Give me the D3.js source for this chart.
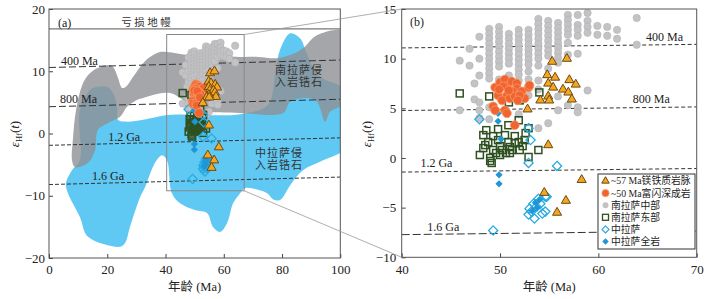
<!DOCTYPE html>
<html>
<head>
<meta charset="utf-8">
<script src="https://cdn.jsdelivr.net/npm/d3@7"></script>
<style>
  body { margin: 0; background: #fff; }
  svg { font-family: "Liberation Serif", "Noto Sans CJK SC", serif; }
</style>
</head>
<body>
<svg id="chart" width="728" height="299"></svg>
<script>
// ---- Daten ----
// Felder in (a): [Alter Ma, eHf]
const blueRegion = [
  [5.8,-8.0],[7.9,-5.9],[10.6,-4.3],[10.6,3.8],[14.1,7.0],[16.5,7.5],[19.9,7.5],[22.0,6.5],
  [23.4,4.3],[23.7,2.2],[26.8,1.9],[32.3,2.2],[41.6,3.0],[65.6,3.1],[75.2,4.6],[77.6,9.4],
  [79.3,13.4],[82.8,16.1],[86.2,15.3],[88.3,13.1],[92.4,9.4],[102,6.7],[102,-2.2],[94.1,-4.3],
  [87.2,-5.9],[82.8,-8.3],[79.3,-10.7],[77.0,-10.6],[74.9,-9.6],[71.4,-9.0],[67.3,-8.8],
  [65.3,-9.8],[63.2,-11.2],[61.1,-14.4],[58.7,-15.8],[56.3,-15.0],[54.3,-12.8],[50.1,-12.3],
  [45.0,-11.2],[42.2,-9.6],[40.5,-4.3],[38.8,-3.5],[36.4,-4.7],[33.0,-8.6],[31.3,-10.2],
  [27.8,-15.0],[26.1,-17.6],[24.4,-18.2],[13.4,-16.6],[10.6,-13.4],[6.5,-9.6]
];
const grayRegion = [
  [7.9,-4.3],[8.2,-1.0],[9.3,3.8],[11.7,8.1],[14.1,9.7],[16.5,10.5],[21.0,11.0],[22.3,10.5],
  [23.7,8.9],[25.1,7.3],[26.4,7.5],[28.9,9.1],[32.3,11.3],[34.7,12.3],[38.1,13.1],[40.5,13.1],
  [48.4,12.6],[58.7,12.5],[65.6,12.3],[71.8,12.3],[78.3,12.1],[82.8,12.6],[87.2,13.7],
  [92.0,15.8],[102,16.3],[102,5.1],[96.5,3.5],[94.8,1.9],[92.0,5.1],[88.6,5.7],[82.8,5.1],
  [80.4,3.3],[65.6,3.3],[51.9,3.8],[41.6,6.5],[35.7,6.2],[32.3,5.7],[30.2,5.4],[26.8,4.3],
  [24.4,2.7],[20.3,1.7],[16.8,0.6],[15.8,-2.7],[13.4,-4.7],[8.9,-5.4]
];

// Entwicklungslinien: eHf bei 0 und 100 Ma
const evoNames = ["400 Ma", "800 Ma", "1.2 Ga", "1.6 Ga"];
const evoAt0 = [10.6, 4.3, -1.9, -8.2];
const evoAt100 = [11.8, 5.5, -0.7, -7.0];
const dmValue = 16.8;

// Beschriftungspositionen der Linien [Alter, eHf]
const evoLabelA = [[4.1,11.65],[3.8,5.54],[20.3,-0.56],[14.8,-6.78]];
const evoLabelB = [[64.85,12.18],[63.5,5.94],[41.9,-0.51],[42.6,-6.95]];

// Ausschnitt in (a)
const zoomBox = [40.4, 67.0, -9.2, 15.9];

// Punktdaten
const grayCols = [
  [45.9, [9.8, 4.8]],
  [46.9, [11.0, 9.3]],
  [47.4, [7.5, 5.9]],
  [47.9, [12.2, 10.0, 8.3, 5.6, 4.8, 4.0]],
  [48.9, [13.0, 12.5, 12.0, 11.5, 11.0, 10.5, 10.0, 9.5, 9.0, 8.5, 8.0, 5.1, 3.9]],
  [49.9, [13.2, 12.7, 12.2, 11.7, 11.2, 10.7, 10.2, 9.7, 9.2, 7.9]],
  [50.9, [12.5, 12.0, 11.5, 11.0, 10.5, 10.0, 9.5, 8.3]],
  [51.9, [12.9, 12.4, 11.9, 11.4, 10.9, 10.4, 9.9, 9.4, 8.9, 8.4, 7.8, 4.4]],
  [52.9, [12.9, 12.4, 11.9, 11.4, 10.9, 10.4, 9.9, 9.4, 8.7, 7.9, 6.3]],
  [53.9, [14.0, 13.5, 13.0, 12.5, 12.0, 11.5, 11.0, 10.5, 10.0, 9.3, 7.8, 6.9, 3.0]],
  [54.9, [13.8, 13.3, 12.8, 12.3, 11.8, 11.3, 10.8, 10.3, 9.0, 3.5]],
  [55.9, [13.6, 13.1, 12.6, 12.1, 11.6, 11.1, 10.6, 10.1, 9.6, 6.2, 4.8]],
  [56.9, [14.4, 13.9, 13.4, 12.9, 12.4, 11.6, 10.4, 5.3]],
  [57.9, [14.4, 13.4, 12.9, 12.3, 10.5, 5.1, 4.6]],
  [58.9, [14.6, 13.8, 13.2, 12.6, 6.8]],
  [59.9, [13.3, 12.4]],
  [60.9, [13.2, 12.3]],
  [61.9, [12.9, 12.0]],
  [63.9, [14.1, 11.4]]
];
const grayPts = grayCols.flatMap(([age, vals]) => vals.map(v => [age, v]));

const redPts = [
  [49.5,7.1],[50.0,7.6],[50.5,7.9],[50.7,7.25],[51.2,7.7],[51.7,7.5],[49.8,6.3],[50.7,6.3],
  [51.7,7.0],[52.2,6.7],[52.9,7.1],[53.0,7.3],[51.3,6.7],[50.2,5.8],[51.0,6.0],[51.5,6.2],
  [52.5,6.0],[49.3,5.2],[49.5,4.8],[50.5,4.8],[50.7,4.5],[51.5,3.3],[50.3,7.2],[49.9,6.9],
  [52.0,6.3],[50.9,6.8],[51.8,5.8]
];
const triPts = [
  [55.3,9.7],[56.8,10.0],[54.8,8.35],[55.6,8.1],[54.9,7.5],[55.4,7.1],[57.05,7.85],[57.7,7.4],
  [56.4,6.9],[56.95,6.6],[57.3,5.9],[54.9,6.2],[54.1,5.8],[55.0,5.8],[52.8,4.9],[54.9,1.3],
  [58.3,-2.2],[54.5,-3.5],[56.7,-4.3],[55.8,-5.5]
];
const eastPts = [
  [45.9,6.5],[48.9,6.2],[50.9,5.6],[52.0,5.8],[54.0,6.6],
  [48.6,2.8],[49.8,2.9],[50.85,3.3],[51.9,3.8],[52.9,3.0],
  [48.8,1.6],[49.8,1.8],[50.85,1.6],[51.9,1.6],[52.5,1.8],
  [48.3,1.0],[49.3,0.8],[50.2,0.8],[51.2,0.8],[52.0,0.8],[53.9,0.8],
  [47.95,0.3],[49.0,0.0],[50.0,0.3],[51.0,0.5],[49.15,-0.5],[52.9,0.1],
  [49.3,2.2],[50.5,2.3],[51.5,2.2],[48.5,1.3],[50.0,1.2],[51.0,1.1],[52.3,1.2],
  [49.6,0.5],[50.6,0.5],[48.3,2.3],[52.6,2.5],[49.0,-0.3],[51.5,1.5]
];
const midPts = [
  [47.9,3.9],[52.9,3.0],[53.1,1.8],[52.9,-0.5],[55.8,-0.8],[49.3,-7.3],
  [53.4,-4.6],[53.9,-4.1],[54.6,-3.9],[53.7,-4.9],[53.0,-5.1],[52.9,-5.7],[53.5,-6.1],
  [54.3,-5.6],[54.6,-5.4],[54.1,-4.6],[53.2,-5.4],[54.75,-3.9]
];
const midWrPts = [
  [49.8,4.5],[49.8,3.7],[49.9,-1.7],[49.9,-2.6],[50.1,1.9],
  [53.6,-4.5],[53.8,-5.0],[53.3,-5.3],[54.0,-4.2]
];

const legendLabels = ["~57 Ma镁铁质岩脉", "~50 Ma富闪深成岩", "南拉萨中部", "南拉萨东部", "中拉萨", "中拉萨全岩"];

const aXTicks = [0, 20, 40, 60, 80, 100];
const aYTicks = [-20, -10, 0, 10, 20];
const bXTicks = [40, 50, 60, 70];
const bYTicks = [-10, -5, 0, 5, 10, 15];

// ---- Skalen ----
const svg = d3.select("#chart");
const xa = d3.scaleLinear().domain([0, 100]).range([49, 340.3]);
const ya = d3.scaleLinear().domain([-20, 20]).range([258, 9]);
const xb = d3.scaleLinear().domain([40, 70]).range([401.7, 696.7]);
const yb = d3.scaleLinear().domain([-10, 15]).range([257.3, 9]);

const defs = svg.append("defs");
defs.append("clipPath").attr("id", "clipA").append("rect")
  .attr("x", xa(0)).attr("y", ya(20)).attr("width", xa(100) - xa(0)).attr("height", ya(-20) - ya(20));
defs.append("clipPath").attr("id", "clipB").append("rect")
  .attr("x", xb(40)).attr("y", yb(15)).attr("width", xb(70) - xb(40)).attr("height", yb(-10) - yb(15));

const diamond = r => `M0,${-r}L${r},0L0,${r}L${-r},0Z`;
const triangle = d3.symbol(d3.symbolTriangle, 36);

// Punkte zeichnen (für beide Diagramme gleich)
function drawPoints(g, x, y) {
  g.append("g").selectAll("circle").data(grayPts).join("circle")
    .attr("cx", d => x(d[0])).attr("cy", d => y(d[1])).attr("r", 3.7)
    .attr("fill", "#c3c3c5").attr("stroke", "#afafb1").attr("stroke-width", 0.5);
  g.append("g").selectAll("rect").data(eastPts).join("rect")
    .attr("x", d => x(d[0]) - 3.5).attr("y", d => y(d[1]) - 3.5)
    .attr("width", 7).attr("height", 7)
    .attr("fill", "none").attr("stroke", "#2f5122").attr("stroke-width", 1.5);
  g.append("g").selectAll("path").data(midPts).join("path")
    .attr("transform", d => `translate(${x(d[0])},${y(d[1])})`)
    .attr("d", diamond(4.6))
    .attr("fill", "none").attr("stroke", "#28abe3").attr("stroke-width", 1.3);
  g.append("g").selectAll("path").data(midWrPts).join("path")
    .attr("transform", d => `translate(${x(d[0])},${y(d[1])})`)
    .attr("d", diamond(3.6))
    .attr("fill", "#1f97d6");
  g.append("g").selectAll("circle").data(redPts).join("circle")
    .attr("cx", d => x(d[0])).attr("cy", d => y(d[1])).attr("r", 4.4)
    .attr("fill", "#f2642f").attr("stroke", "#f59a6c").attr("stroke-width", 0.8);
  g.append("g").selectAll("path").data(triPts).join("path")
    .attr("transform", d => `translate(${x(d[0])},${y(d[1])})`)
    .attr("d", triangle)
    .attr("fill", "#f4a622").attr("stroke", "#6c4a10").attr("stroke-width", 1);
}

function drawEvo(g, x, y, t0, t1, dashes) {
  evoNames.forEach((n, i) => {
    const f = t => evoAt0[i] + (evoAt100[i] - evoAt0[i]) * t / 100;
    g.append("line")
      .attr("x1", x(t0)).attr("y1", y(f(t0)))
      .attr("x2", x(t1)).attr("y2", y(f(t1)))
      .attr("stroke", "#333").attr("stroke-width", 1)
      .attr("stroke-dasharray", dashes[i]);
  });
}

function drawAxes(x, y, xt, yt, padL) {
  const gx = svg.append("g").attr("transform", `translate(0,${y.range()[0]})`)
    .call(d3.axisBottom(x).tickValues(xt).tickSizeInner(-4).tickSizeOuter(0).tickPadding(7));
  const gy = svg.append("g").attr("transform", `translate(${x.range()[0]},0)`)
    .call(d3.axisLeft(y).tickValues(yt).tickSizeInner(-4).tickSizeOuter(0).tickPadding(padL));
  [gx, gy].forEach(g => {
    g.select(".domain").remove();
    g.selectAll("line").attr("stroke", "#444");
    g.selectAll("text").attr("font-size", 13).attr("fill", "#222")
      .attr("font-family", "Liberation Serif, serif");
  });
  svg.append("rect")
    .attr("x", x.range()[0]).attr("y", y.range()[1])
    .attr("width", x.range()[1] - x.range()[0]).attr("height", y.range()[0] - y.range()[1])
    .attr("fill", "none").attr("stroke", "#555").attr("stroke-width", 1);
  // Achsentitel
  const mid = (x.range()[0] + x.range()[1]) / 2;
  svg.append("text").attr("x", mid).attr("y", 291).attr("text-anchor", "middle")
    .attr("font-size", 12.5).attr("fill", "#222").text("年龄 (Ma)");
}

function yLabel(cx) {
  const t = svg.append("text").attr("transform", `translate(${cx},134) rotate(-90)`)
    .attr("text-anchor", "middle").attr("font-size", 13).attr("fill", "#222");
  t.append("tspan").attr("font-style", "italic").text("ε");
  t.append("tspan").attr("font-size", 8.5).attr("dy", 3).text("Hf");
  t.append("tspan").attr("dy", -3).text("(");
  t.append("tspan").attr("font-style", "italic").text("t");
  t.append("tspan").text(")");
}

// ---- Diagramm (a) ----
const ga = svg.append("g").attr("clip-path", "url(#clipA)");
const area = d3.line().x(d => xa(d[0])).y(d => ya(d[1])).curve(d3.curveCatmullRomClosed.alpha(0.5));
ga.append("path").datum(blueRegion).attr("d", area).attr("fill", "#5fc9f3");
ga.append("path").datum(grayRegion).attr("d", area).attr("fill", "#8e9093").attr("opacity", 0.8);

ga.append("line").attr("x1", xa(0)).attr("x2", xa(100)).attr("y1", ya(dmValue)).attr("y2", ya(dmValue))
  .attr("stroke", "#555").attr("stroke-width", 1);
drawEvo(ga, xa, ya, 0, 100, ["7,3", "7,3", "4,2", "4,2"]);

ga.append("rect")
  .attr("x", xa(zoomBox[0])).attr("y", ya(zoomBox[3]))
  .attr("width", xa(zoomBox[1]) - xa(zoomBox[0])).attr("height", ya(zoomBox[2]) - ya(zoomBox[3]))
  .attr("fill", "none").attr("stroke", "#888").attr("stroke-width", 1);

drawPoints(ga, xa, ya);

evoNames.forEach((n, i) => {
  svg.append("text").attr("x", xa(evoLabelA[i][0])).attr("y", ya(evoLabelA[i][1]))
    .attr("dy", "0.35em").attr("font-size", 12).attr("fill", "#222").text(n);
});
svg.append("text").attr("x", 58).attr("y", 23).attr("dy", "0.35em")
  .attr("font-size", 12).attr("fill", "#222").text("(a)");
svg.append("text").attr("x", xa(33.7)).attr("y", ya(17.9)).attr("dy", "0.35em")
  .attr("text-anchor", "middle").attr("font-size", 10.5).attr("letter-spacing", 2.5)
  .attr("fill", "#333").text("亏损地幔");
[["南拉萨侵", 77.6, 10.2], ["入岩锆石", 77.6, 8.27], ["中拉萨侵", 70.7, -3.2], ["入岩锆石", 70.7, -5.05]]
  .forEach(([s, a, e]) => {
    svg.append("text").attr("x", xa(a)).attr("y", ya(e)).attr("dy", "0.35em")
      .attr("font-size", 11).attr("letter-spacing", 1).attr("fill", "#333").text(s);
  });

drawAxes(xa, ya, aXTicks, aYTicks, 4);
yLabel(19);

// ---- Diagramm (b) ----
const gb = svg.append("g").attr("clip-path", "url(#clipB)");
drawEvo(gb, xb, yb, 40, 70, ["4,2.5", "4,2.5", "4,2.5", "8,3"]);
drawPoints(gb, xb, yb);

evoNames.forEach((n, i) => {
  svg.append("text").attr("x", xb(evoLabelB[i][0])).attr("y", yb(evoLabelB[i][1]))
    .attr("dy", "0.35em").attr("font-size", 12).attr("fill", "#222").text(n);
});
svg.append("text").attr("x", 410).attr("y", 22).attr("dy", "0.35em")
  .attr("font-size", 12).attr("fill", "#222").text("(b)");

// Legende
const leg = svg.append("g");
leg.append("rect").attr("x", 598).attr("y", 174).attr("width", 97).attr("height", 75)
  .attr("fill", "#fff").attr("stroke", "#333").attr("stroke-width", 1);
legendLabels.forEach((s, i) => {
  const cy = 181 + i * 12.1;
  const sym = leg.append("g").attr("transform", `translate(605.5,${cy})`);
  if (i === 0) sym.append("path").attr("d", d3.symbol(d3.symbolTriangle, 24)).attr("fill", "#f4a622").attr("stroke", "#6c4a10");
  if (i === 1) sym.append("circle").attr("r", 3.6).attr("fill", "#f2642f").attr("stroke", "#f59a6c").attr("stroke-width", 0.8);
  if (i === 2) sym.append("circle").attr("r", 3).attr("fill", "#c3c3c5");
  if (i === 3) sym.append("rect").attr("x", -3).attr("y", -3).attr("width", 6).attr("height", 6)
    .attr("fill", "none").attr("stroke", "#2f5122").attr("stroke-width", 1.3);
  if (i === 4) sym.append("path").attr("d", diamond(3.5)).attr("fill", "none").attr("stroke", "#28abe3").attr("stroke-width", 1.2);
  if (i === 5) sym.append("path").attr("d", diamond(3.2)).attr("fill", "#1f97d6");
  leg.append("text").attr("x", 611).attr("y", cy).attr("dy", "0.35em")
    .attr("font-size", 9.8).attr("fill", "#222").text(s);
});

drawAxes(xb, yb, bXTicks, bYTicks, 5.5);
yLabel(371);

// Verbindungslinien zwischen (a) und (b)
svg.append("line").attr("x1", xa(zoomBox[1])).attr("y1", ya(zoomBox[3]))
  .attr("x2", xb(40)).attr("y2", yb(15)).attr("stroke", "#999").attr("stroke-width", 0.8);
svg.append("line").attr("x1", xa(zoomBox[1])).attr("y1", ya(zoomBox[2]))
  .attr("x2", xb(40)).attr("y2", yb(-10)).attr("stroke", "#999").attr("stroke-width", 0.8);
</script>
</body>
</html>
